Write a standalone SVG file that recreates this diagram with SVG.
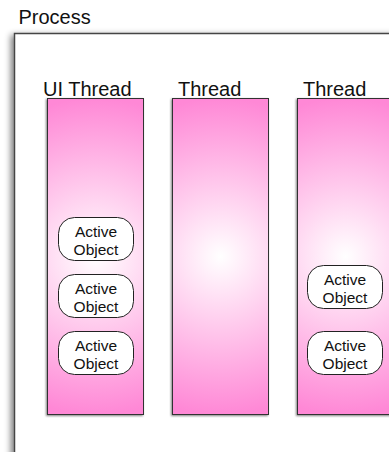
<svg xmlns="http://www.w3.org/2000/svg" width="389" height="452" viewBox="0 0 389 452">
<defs>
<radialGradient id="pinkGrad" cx="0.5" cy="0.5" r="0.5" gradientTransform="translate(0.5,0.5) scale(3.26,1) translate(-0.5,-0.5)">
<stop offset="0" stop-color="#ffffff"/>
<stop offset="1" stop-color="#ff88d6"/>
</radialGradient>
<filter id="shadow" x="-20%" y="-20%" width="140%" height="140%">
<feGaussianBlur in="SourceAlpha" stdDeviation="3"/>
<feOffset dx="-3" dy="2" result="b"/>
<feComponentTransfer><feFuncA type="linear" slope="0.5"/></feComponentTransfer>
<feMerge><feMergeNode/><feMergeNode in="SourceGraphic"/></feMerge>
</filter>
<filter id="smallShadow" x="-10%" y="-10%" width="120%" height="120%">
<feGaussianBlur in="SourceAlpha" stdDeviation="0.8"/>
<feOffset dx="-1" dy="1" result="b"/>
<feComponentTransfer><feFuncA type="linear" slope="0.5"/></feComponentTransfer>
<feMerge><feMergeNode/><feMergeNode in="SourceGraphic"/></feMerge>
</filter>
<style>
.lbl{font-family:"Liberation Sans",Arial,Helvetica,sans-serif;font-size:20px;fill:#111}
.ao{font-family:"Liberation Sans",Arial,Helvetica,sans-serif;font-size:15.5px;fill:#111;text-anchor:middle}
.col{fill:url(#pinkGrad);stroke:#333;stroke-width:1;filter:url(#smallShadow)}
.obj{fill:#ffffff;stroke:#222;stroke-width:1}
</style>
</defs>
<g id="process">
<rect x="14.5" y="33.5" width="400" height="440" fill="#ffffff" stroke="#444" stroke-width="1.5" filter="url(#shadow)"/>
<text class="lbl" x="18.5" y="24">Process</text>
</g>
<g id="ui-thread">
<rect class="col" x="47.5" y="98.5" width="96" height="316"/>
<text class="lbl" x="43" y="95.5">UI Thread</text>
</g>
<g id="thread-2">
<rect class="col" x="172.5" y="98.5" width="96" height="316"/>
<text class="lbl" x="178" y="95.5">Thread</text>
</g>
<g id="thread-3">
<rect class="col" x="297.5" y="98.5" width="96" height="316"/>
<text class="lbl" x="303" y="95.5">Thread</text>
</g>
<g id="ao-1">
<rect class="obj" x="58.5" y="217.5" width="75" height="43" rx="16" ry="16"/>
<text class="ao" x="96" y="237">Active</text>
<text class="ao" x="96" y="255">Object</text>
</g>
<g id="ao-2">
<rect class="obj" x="58.5" y="274.5" width="75" height="43" rx="16" ry="16"/>
<text class="ao" x="96" y="294">Active</text>
<text class="ao" x="96" y="312">Object</text>
</g>
<g id="ao-3">
<rect class="obj" x="58.5" y="331.5" width="75" height="43" rx="16" ry="16"/>
<text class="ao" x="96" y="351">Active</text>
<text class="ao" x="96" y="369">Object</text>
</g>
<g id="ao-4">
<rect class="obj" x="307.5" y="265.5" width="75" height="43" rx="16" ry="16"/>
<text class="ao" x="345" y="285">Active</text>
<text class="ao" x="345" y="303">Object</text>
</g>
<g id="ao-5">
<rect class="obj" x="307.5" y="331.5" width="75" height="43" rx="16" ry="16"/>
<text class="ao" x="345" y="351">Active</text>
<text class="ao" x="345" y="369">Object</text>
</g>
<g id="connectors"/>
</svg>
